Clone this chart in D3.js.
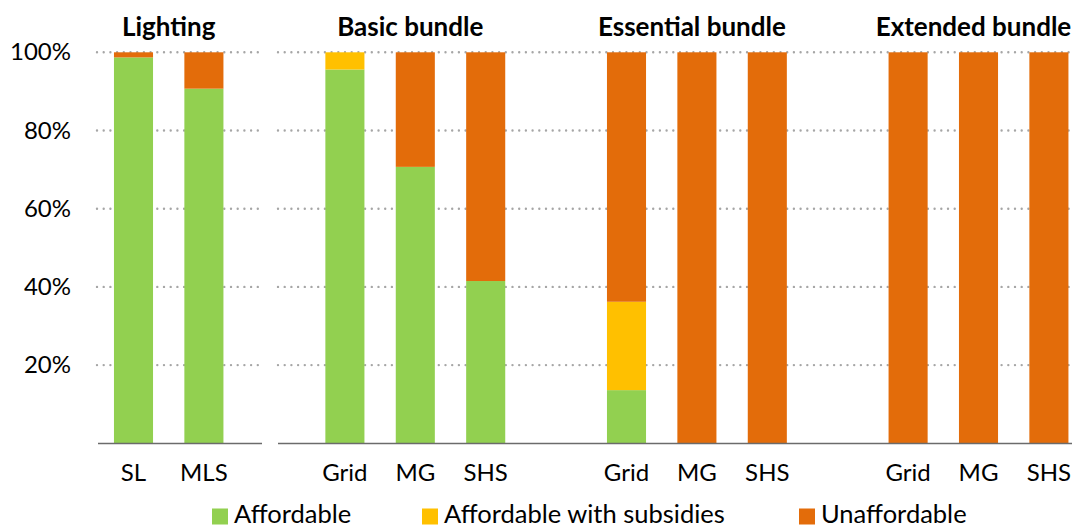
<!DOCTYPE html>
<html><head><meta charset="utf-8">
<script src="https://cdn.jsdelivr.net/npm/d3@7"></script>
<style>
html,body{margin:0;padding:0;background:#fff;overflow:hidden;}
svg{display:block;font-family:Lato, "Noto Sans", sans-serif;}
</style></head>
<body><svg id="c" width="1072" height="529"></svg>
<script>
// ---- data ----
const groups = ["Lighting", "Basic bundle", "Essential bundle", "Extended bundle"];
const groupCats = [["SL", "MLS"], ["Grid", "MG", "SHS"], ["Grid", "MG", "SHS"], ["Grid", "MG", "SHS"]];
const affordable   = [[98.7, 90.7], [95.6, 70.7, 41.5], [13.6, 0, 0], [0, 0, 0]];
const withSubsidy  = [[0, 0], [4.4, 0, 0], [22.6, 0, 0], [0, 0, 0]];
const unaffordable = [[1.3, 9.3], [0, 29.3, 58.5], [63.8, 100, 100], [100, 100, 100]];
const seriesNames = ["Affordable", "Affordable with subsidies", "Unaffordable"];
const seriesColors = ["#92D050", "#FFC000", "#E36C0A"];
const yTicks = [20, 40, 60, 80, 100];

// ---- layout ----
const svg = d3.select("#c");
const y = d3.scaleLinear().domain([0, 100]).range([443.3, 52.3]);
const step = 70.4;

// panel 1: own band scale
const x1 = d3.scaleBand().domain(groupCats[0]).range([98.3, 98.3 + 2 * step]).paddingInner(0.445).paddingOuter(0.2225);
// panels 2-4: one band scale with blank separators
const keys = [];
keys.push("_b0");
for (let g = 1; g < 4; g++) {
  groupCats[g].forEach(c => keys.push(g + "|" + c));
  keys.push("_b" + g);
}
const x2 = d3.scaleBand().domain(keys).range([239.3, 239.3 + keys.length * step]).paddingInner(0.445).paddingOuter(0.2225);

function xPos(g, c) { return g === 0 ? x1(c) : x2(g + "|" + c); }
function bw(g) { return g === 0 ? x1.bandwidth() : x2.bandwidth(); }

// gridlines
const gridSegs = [[97, 261], [278, 1072]];
gridSegs.forEach(([a, b]) => {
  svg.append("g").selectAll("line").data(yTicks).join("line")
    .attr("x1", a).attr("x2", b)
    .attr("y1", d => y(d)).attr("y2", d => y(d))
    .attr("stroke", "#A6A6A6").attr("stroke-width", 2.4)
    .attr("stroke-linecap", "round").attr("stroke-dasharray", "0,6.7");
});

// y axis labels
const yAxis = d3.axisLeft(y).tickValues(yTicks).tickFormat(d => d + "%").tickSize(0).tickPadding(0);
const ya = svg.append("g").attr("transform", "translate(71,0)").call(yAxis);
ya.select(".domain").remove();
ya.selectAll("text").attr("font-size", 24).attr("fill", "#000").attr("font-family", "Lato, 'Noto Sans', sans-serif");

// bars
const stackData = [];
groups.forEach((gname, g) => {
  groupCats[g].forEach((c, i) => {
    const vals = [affordable[g][i], withSubsidy[g][i], unaffordable[g][i]];
    let base = 0;
    vals.forEach((v, s) => {
      if (v > 0) stackData.push({g, c, s, y0: base, y1: base + v});
      base += v;
    });
  });
});
svg.append("g").selectAll("rect").data(stackData).join("rect")
  .attr("x", d => xPos(d.g, d.c))
  .attr("width", d => bw(d.g))
  .attr("y", d => y(d.y1))
  .attr("height", d => y(d.y0) - y(d.y1))
  .attr("fill", d => seriesColors[d.s]);

// x axes (domain lines) and category labels
const ax1 = d3.axisBottom(x1).tickSize(0).tickPadding(0);
const g1 = svg.append("g").attr("transform", "translate(0,443.5)").call(ax1);
const ax2 = d3.axisBottom(x2).tickSize(0).tickPadding(0).tickFormat(k => k.startsWith("_") ? "" : k.split("|")[1]);
const g2 = svg.append("g").attr("transform", "translate(0,443.5)").call(ax2);
[g1, g2].forEach(g => {
  g.select(".domain").remove();
  g.selectAll("text").attr("font-size", 24).attr("fill", "#000").attr("dy", 0).attr("y", 37)
    .attr("font-family", "Lato, 'Noto Sans', sans-serif");
});
svg.append("line").attr("x1", 98).attr("x2", 262).attr("y1", 443.5).attr("y2", 443.5).attr("stroke", "#6B6B6B").attr("stroke-width", 1.6);
svg.append("line").attr("x1", 278).attr("x2", 1072).attr("y1", 443.5).attr("y2", 443.5).attr("stroke", "#6B6B6B").attr("stroke-width", 1.6);

// panel titles
groups.forEach((gname, g) => {
  const cats = groupCats[g];
  let cx;
  if (g === 0) cx = (x1(cats[0]) + x1(cats[1]) + x1.bandwidth()) / 2;
  else cx = x2(g + "|" + cats[1]) + x2.bandwidth() / 2 - 5;
  svg.append("text").attr("x", cx).attr("y", 36).attr("text-anchor", "middle")
    .attr("font-size", 26).attr("font-weight", "bold").attr("fill", "#000").text(gname);
});

// legend
const legX = [212, 422, 799];
const leg = svg.append("g");
seriesNames.forEach((n, i) => {
  leg.append("rect").attr("x", legX[i]).attr("y", 508.5).attr("width", 16).attr("height", 16).attr("fill", seriesColors[i]);
  leg.append("text").attr("x", legX[i] + 22).attr("y", 523).attr("font-size", 25.5).attr("fill", "#000").text(n);
});
</script></body></html>
